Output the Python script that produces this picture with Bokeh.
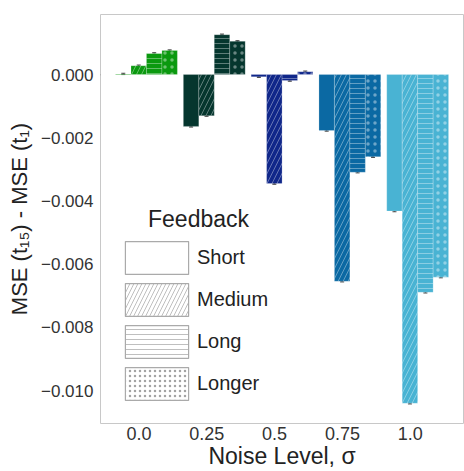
import numpy as np
from bokeh.plotting import figure
from bokeh.models import (Range1d, FixedTicker, Legend, LegendItem, Label,
                          Whisker, ColumnDataSource, TeeHead)
from bokeh.embed import file_html
from bokeh.resources import INLINE

# ---------------- data ----------------
noise_levels = ["0.0", "0.25", "0.5", "0.75", "1.0"]
feedback = ["Short", "Medium", "Long", "Longer"]
short_vals = [0.00002, -0.00164, -0.00007, -0.00177, -0.00432]
medium_vals = [0.00028, -0.00130, -0.00345, -0.00654, -0.01040]
long_vals = [0.00067, 0.00126, -0.00019, -0.00309, -0.00689]
longer_vals = [0.00076, 0.00105, 0.00009, -0.00260, -0.00641]
err_vals = [0.00002, 0.00002, 0.00002, 0.00002, 0.00002]
group_colors = ["#0b990f", "#05362e", "#10278a", "#0b69a3", "#49b3d3"]
hatches = [" ", "/", "-", "."]
hatch_scales = [10, 10, 5, 7]
hatch_weights = [1, 0.9, 0.9, 0.7]
legend_hatch_scales = [10, 8, 5, 5]
legend_hatch_weights = [0.8, 0.7, 0.7, 0.45]
y_ticks = [0.0, -0.002, -0.004, -0.006, -0.008, -0.010]
y_tick_labels = ["0.000", "\u22120.002", "\u22120.004", "\u22120.006",
                 "\u22120.008", "\u22120.010"]

series = [short_vals, medium_vals, long_vals, longer_vals]
FONT = "Liberation Sans"

p = figure(width=464, height=471, output_backend="svg", toolbar_location=None,
           x_range=Range1d(-0.678, 4.676), y_range=Range1d(-0.01104, 0.0019),
           min_border_left=100, min_border_right=1, min_border_top=14,
           min_border_bottom=48)
p.background_fill_color = "white"
p.border_fill_color = "white"
p.outline_line_color = "#c8c8c8"
p.outline_line_width = 1
p.xgrid.visible = False
p.ygrid.visible = False

bar_w = 0.228
gidx = np.arange(len(noise_levels))
for k, vals in enumerate(series):
    xs = gidx + (k - 1.5) * bar_w
    src = ColumnDataSource(dict(x=xs, top=vals, color=group_colors,
                                up=np.array(vals) + np.array(err_vals),
                                lo=np.array(vals) - np.array(err_vals)))
    p.vbar(x="x", top="top", bottom=0, width=bar_w, source=src,
           fill_color="color", line_color="white", line_alpha=0.35,
           line_width=0.6,
           hatch_pattern=hatches[k], hatch_color="white", hatch_alpha=0.4,
           hatch_scale=hatch_scales[k], hatch_weight=hatch_weights[k])
    wk = Whisker(base="x", upper="up", lower="lo", source=src,
                 line_color="#333333", line_width=1,
                 upper_head=TeeHead(size=4, line_color="#333333"),
                 lower_head=TeeHead(size=4, line_color="#333333"))
    p.add_layout(wk)

# legend (proxy renderers placed outside the visible range)
items = []
for k, name in enumerate(feedback):
    r = p.vbar(x=[-50], top=[0], bottom=[0], width=0.2, fill_color="white",
               line_color="#aaaaaa", line_width=1.2,
               hatch_pattern=hatches[k], hatch_color="#999999",
               hatch_alpha=0.9, hatch_scale=legend_hatch_scales[k],
               hatch_weight=legend_hatch_weights[k])
    items.append(LegendItem(label=name, renderers=[r]))
legend = Legend(items=items, location=(17, 19), padding=0, margin=0,
                spacing=1, glyph_width=79, glyph_height=41, label_standoff=1,
                label_text_font=FONT, label_text_font_size="20px",
                label_text_color="#222222",
                border_line_color=None, background_fill_alpha=0)
p.add_layout(legend, "center")
title_lbl = Label(x=0.7675, y=-0.00456, text="Feedback", text_align="center",
                  text_baseline="middle", text_font=FONT,
                  text_font_size="23px", text_color="#222222")
p.add_layout(title_lbl)

# axes
tick_offset = -0.11
p.xaxis.ticker = FixedTicker(ticks=list(gidx + tick_offset))
p.xaxis.major_label_overrides = {float(g + tick_offset): lab
                                 for g, lab in zip(gidx, noise_levels)}
p.yaxis.ticker = FixedTicker(ticks=y_ticks)
p.yaxis.major_label_overrides = {t: lab for t, lab in zip(y_ticks, y_tick_labels)}
for ax in (p.xaxis[0], p.yaxis[0]):
    ax.axis_line_color = None
    ax.major_tick_line_color = None
    ax.minor_tick_line_color = None
    ax.major_tick_out = 0
    ax.major_tick_in = 0
    ax.major_label_text_font = FONT
    ax.major_label_text_color = "#333333"
    ax.axis_label_text_font = FONT
    ax.axis_label_text_font_style = "normal"
    ax.axis_label_text_color = "#222222"
p.xaxis.major_label_text_font_size = "18px"
p.yaxis.major_label_text_font_size = "17px"
p.xaxis.axis_label = "Noise Level, \u03c3"
p.yaxis.axis_label = "MSE (t\u2081\u2085) - MSE (t\u2081)"
p.xaxis.axis_label_text_font_size = "23px"
p.yaxis.axis_label_text_font_size = "22px"
p.xaxis.major_label_standoff = 3
p.xaxis.axis_label_standoff = 0
p.yaxis.major_label_standoff = 7
p.yaxis.axis_label_standoff = 6

open("out.html", "w").write(file_html(p, INLINE))
